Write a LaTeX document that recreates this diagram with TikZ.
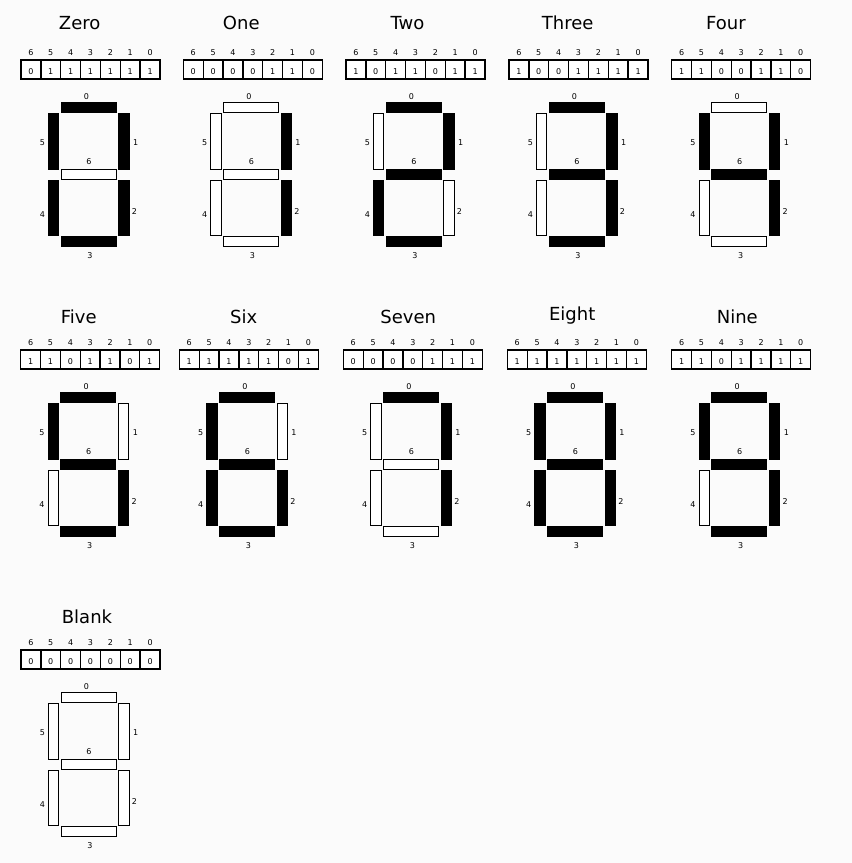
\documentclass[tikz,border=0pt]{standalone}
\usepackage{fontspec}
\setmainfont{DejaVu Sans}
\definecolor{bg}{HTML}{FBFBFB}

\begin{document}
\begin{tikzpicture}[x=1pt,y=-1pt,title/.style={anchor=base,inner sep=0pt,font=\fontsize{18}{21}\selectfont},small/.style={inner sep=0pt,font=\fontsize{8}{9}\selectfont},cell/.style={draw,line width=1.3pt,fill=white},seg/.style={draw,line width=1.1pt}]
\fill[bg] (0,0) rectangle (852,863);
\useasboundingbox (0,0) rectangle (852,863);
\foreach \name/\X/\Y/\tx/\ty/\code in {Zero/21/60/79.7/29/63,One/183.3/60/241.3/29/6,Two/346/60/407.5/29/91,Three/509/60/567.7/29/79,Four/671.7/60/726/29/102,Five/20.7/350/78.8/323/109,Six/179.3/350/243.7/323/125,Seven/343.3/350/408.3/323/7,Eight/507.3/350/572.2/320/127,Nine/671.7/350/737.3/323/111,Blank/21/650/87/623.3/0}{
\node[title] (t-\name) at (\tx,\ty) {\name};
\begin{scope}[shift={(\X,\Y)}]
\foreach \k in {0,...,6}{
\pgfmathtruncatemacro\idx{6-\k}
\pgfmathtruncatemacro\b{mod(floor(\code/2^\idx),2)}
\draw[cell] ({\k*139/7},0) rectangle ({(\k+1)*139/7},19);
\node[small] (i-\name-\idx) at ({(\k+0.5)*139/7},-7.3) {\idx};
\node[small] (v-\name-\idx) at ({(\k+0.5)*139/7},11.2) {\b};
}
\foreach \s/\xa/\ya/\xb/\yb/\lx/\ly in {0/40.2/42.2/95.2/52.2/65.5/36.2,1/97.8/53.8/108.1/109.2/114.7/82.8,2/97.8/120.5/108.1/175.2/113.5/152,3/40.2/176.2/95.2/186.5/69/195.7,4/27.5/120.5/37.8/175.2/21.3/154.7,5/27.5/53.8/37.8/109.2/21.3/82.3,6/40.2/109.5/95.2/119.2/68/101.7}{
\pgfmathtruncatemacro\on{mod(floor(\code/2^\s),2)}
\ifnum\on=1 \def\segfill{black}\else\def\segfill{white}\fi
\draw[seg,fill=\segfill] (\xa,\ya) rectangle (\xb,\yb);
\node[small] (l-\name-\s) at (\lx,\ly) {\s};
}
\end{scope}
}
\end{tikzpicture}
\end{document}
